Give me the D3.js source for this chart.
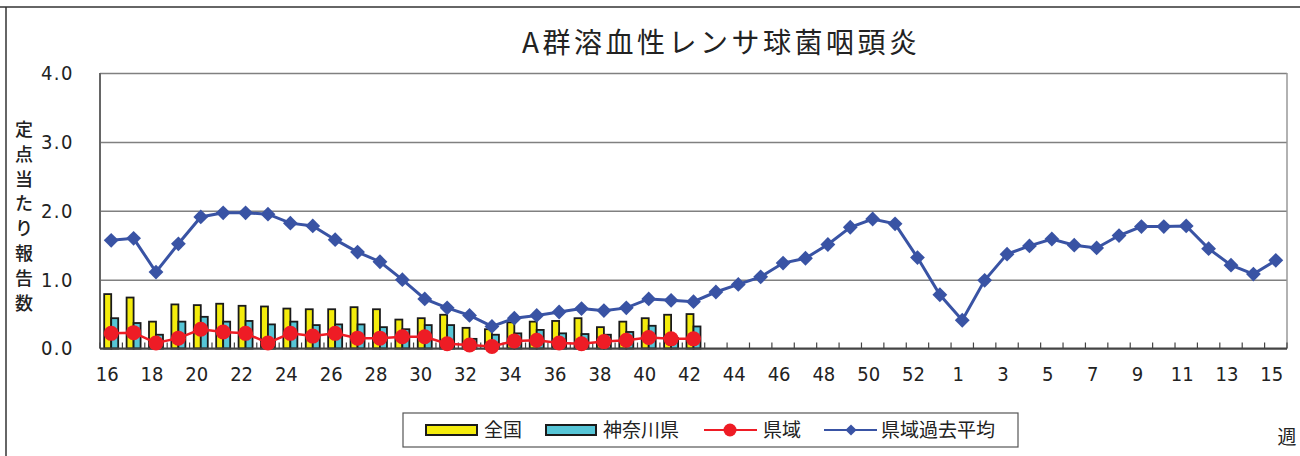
<!DOCTYPE html>
<html lang="ja">
<head>
<meta charset="UTF-8">
<script src="https://cdn.jsdelivr.net/npm/d3@7"></script>
<title>index</title>
<style>
  body { margin: 0; background: #fff; }
  text { fill: #222; }
  .jp { font-family: "Noto Sans CJK JP", sans-serif; }
  .num { font-family: "Liberation Sans Narrow", "DejaVu Sans Condensed", sans-serif; }
</style>
</head>
<body>
<div id="chart"></div>
<script>
// weeks shown on the category axis (16..53, then 1..15)
var weeks = [16,17,18,19,20,21,22,23,24,25,26,27,28,29,30,31,32,33,34,35,36,37,38,39,40,41,42,
             43,44,45,46,47,48,49,50,51,52,53,1,2,3,4,5,6,7,8,9,10,11,12,13,14,15];

// 全国 (bars, weeks 16-42)
var national = [0.79,0.74,0.39,0.64,0.63,0.65,0.62,0.61,0.58,0.57,0.57,0.60,0.57,0.42,
                0.44,0.49,0.30,0.28,0.38,0.39,0.40,0.44,0.31,0.39,0.44,0.49,0.50];
// 神奈川県 (bars, weeks 16-42)
var kanagawa = [0.44,0.37,0.20,0.39,0.46,0.39,0.40,0.35,0.39,0.34,0.35,0.35,0.31,0.28,
                0.34,0.34,0.14,0.20,0.22,0.27,0.22,0.21,0.20,0.24,0.33,0.15,0.32];
// 県域 (red line, weeks 16-42)
var prefecture = [0.22,0.23,0.08,0.15,0.28,0.24,0.22,0.08,0.22,0.18,0.22,0.15,0.15,0.17,
                  0.17,0.07,0.05,0.03,0.11,0.12,0.08,0.07,0.10,0.12,0.16,0.14,0.14];
// 県域過去平均 (blue line, all weeks)
var pastAvg = [1.57,1.60,1.11,1.52,1.91,1.97,1.97,1.95,1.82,1.78,1.58,1.40,1.26,1.00,
               0.72,0.59,0.48,0.32,0.44,0.48,0.53,0.58,0.55,0.59,0.72,0.70,0.68,
               0.82,0.93,1.04,1.24,1.31,1.51,1.76,1.88,1.81,1.32,0.78,0.41,0.99,
               1.37,1.49,1.59,1.50,1.46,1.64,1.77,1.77,1.78,1.45,1.21,1.08,1.28];
var yTicks = [0,1,2,3,4];
var barKeys = ['全国','神奈川県'];

var width = 1300, height = 456;
var plotLeft = 100, plotRight = 1287, plotTop = 73, plotBottom = 348.5;

var svg = d3.select('#chart').append('svg')
    .attr('width', width).attr('height', height);

// outer frame (top and left edges)
svg.append('line').attr('x1', 0).attr('x2', width).attr('y1', 7).attr('y2', 7)
    .attr('stroke', '#333').attr('stroke-width', 1.5);
svg.append('line').attr('x1', 6).attr('x2', 6).attr('y1', 7).attr('y2', height)
    .attr('stroke', '#333').attr('stroke-width', 1.5);

var x = d3.scaleBand().domain(weeks).range([plotLeft, plotRight]).padding(0);
var y = d3.scaleLinear().domain([0, 4]).range([plotBottom, plotTop]);
var x1 = d3.scaleBand().domain(barKeys).range([0, x.bandwidth()])
    .paddingInner(0).paddingOuter(0.6);
var bw = x.bandwidth();

// gridlines + y labels
var yAxis = svg.append('g')
    .attr('transform', 'translate(' + plotLeft + ',0)')
    .call(d3.axisLeft(y).tickValues(yTicks).tickSize(-(plotRight - plotLeft)).tickPadding(26)
          .tickFormat(d3.format('.1f')));
yAxis.select('.domain').remove();
yAxis.selectAll('.tick line').attr('stroke', '#808080').attr('stroke-width', 1.5);
yAxis.selectAll('.tick text').attr('class', 'num').attr('font-size', 20)
    .attr('letter-spacing', 1.5).attr('fill', '#222');

// plot sides
svg.append('line').attr('x1', plotLeft).attr('x2', plotLeft).attr('y1', plotTop).attr('y2', plotBottom)
    .attr('stroke', '#666').attr('stroke-width', 2);
svg.append('line').attr('x1', plotRight).attr('x2', plotRight).attr('y1', plotTop).attr('y2', plotBottom)
    .attr('stroke', '#999').attr('stroke-width', 1.5);

// bars
var barData = national.map(function(v, i) {
    return { week: weeks[i], vals: [
        { key: '全国', value: v, color: '#f4ec0c' },
        { key: '神奈川県', value: kanagawa[i], color: '#56c5d6' }] };
});
var groups = svg.append('g').selectAll('g').data(barData).enter().append('g')
    .attr('transform', function(d) { return 'translate(' + x(d.week) + ',0)'; });
groups.selectAll('rect').data(function(d) { return d.vals; }).enter().append('rect')
    .attr('x', function(d) { return x1(d.key); })
    .attr('y', function(d) { return y(d.value); })
    .attr('width', x1.bandwidth())
    .attr('height', function(d) { return y(0) - y(d.value); })
    .attr('fill', function(d) { return d.color; })
    .attr('stroke', '#1a1a1a').attr('stroke-width', 1.8);

// x axis line + ticks at category boundaries
var bounds = weeks.map(function(w) { return x(w); }).concat([plotRight]);
svg.append('g').selectAll('line').data(bounds).enter().append('line')
    .attr('x1', function(d) { return d; }).attr('x2', function(d) { return d; })
    .attr('y1', plotBottom - 6).attr('y2', plotBottom)
    .attr('stroke', '#444').attr('stroke-width', 1.2);
svg.append('line').attr('x1', plotLeft).attr('x2', plotRight).attr('y1', plotBottom).attr('y2', plotBottom)
    .attr('stroke', '#444').attr('stroke-width', 2);

// x labels every other week
svg.append('g').selectAll('text').data(weeks.filter(function(w, i) { return i % 2 === 0; }))
    .enter().append('text')
    .attr('class', 'num')
    .attr('x', function(d) { return x(d) + bw / 2 - 4; })
    .attr('y', 381)
    .attr('text-anchor', 'middle')
    .attr('font-size', 20)
    .text(function(d) { return d; });

// 県域過去平均 line
var lineAvg = d3.line()
    .x(function(d, i) { return x(weeks[i]) + bw / 2; })
    .y(function(d) { return y(d); });
svg.append('path').datum(pastAvg).attr('d', lineAvg)
    .attr('fill', 'none').attr('stroke', '#3953a4').attr('stroke-width', 3);
var diamond = d3.symbol().type(d3.symbolDiamond2).size(140);
svg.append('g').selectAll('path').data(pastAvg).enter().append('path')
    .attr('d', diamond)
    .attr('transform', function(d, i) {
        return 'translate(' + (x(weeks[i]) + bw / 2) + ',' + y(d) + ')';
    })
    .attr('fill', '#3953a4');

// 県域 line
svg.append('path').datum(prefecture).attr('d', lineAvg)
    .attr('fill', 'none').attr('stroke', '#ee1c25').attr('stroke-width', 2.5);
svg.append('g').selectAll('circle').data(prefecture).enter().append('circle')
    .attr('cx', function(d, i) { return x(weeks[i]) + bw / 2; })
    .attr('cy', function(d) { return y(d); })
    .attr('r', 7.5)
    .attr('fill', '#ee1c25');

// title
svg.append('text').attr('class', 'jp')
    .attr('x', 522).attr('y', 53)
    .attr('font-size', 28).attr('letter-spacing', 3.5)
    .text('A群溶血性レンサ球菌咽頭炎');

// y axis title (vertical)
var yTitle = '定点当たり報告数'.split('');
svg.append('g').selectAll('text').data(yTitle).enter().append('text')
    .attr('class', 'jp')
    .attr('x', 24)
    .attr('y', function(d, i) { return 136 + i * 24.8; })
    .attr('text-anchor', 'middle')
    .attr('font-size', 18)
    .attr('font-weight', 500)
    .text(function(d) { return d; });

// 週
svg.append('text').attr('class', 'jp').attr('x', 1287).attr('y', 444)
    .attr('text-anchor', 'middle').attr('font-size', 19).text('週');

// legend
var lg = svg.append('g');
lg.append('rect').attr('x', 403).attr('y', 413).attr('width', 615).attr('height', 34)
    .attr('fill', '#fff').attr('stroke', '#555').attr('stroke-width', 1.2);
var ly = 430;
lg.append('rect').attr('x', 426).attr('y', ly - 5).attr('width', 51).attr('height', 10)
    .attr('fill', '#f4ec0c').attr('stroke', '#1a1a1a').attr('stroke-width', 2);
lg.append('rect').attr('x', 546).attr('y', ly - 5).attr('width', 50).attr('height', 10)
    .attr('fill', '#56c5d6').attr('stroke', '#1a1a1a').attr('stroke-width', 2);
lg.append('line').attr('x1', 704).attr('x2', 757).attr('y1', ly).attr('y2', ly)
    .attr('stroke', '#ee1c25').attr('stroke-width', 2);
lg.append('circle').attr('cx', 730).attr('cy', ly).attr('r', 6.5).attr('fill', '#ee1c25');
lg.append('line').attr('x1', 824).attr('x2', 877).attr('y1', ly).attr('y2', ly)
    .attr('stroke', '#3953a4').attr('stroke-width', 2);
lg.append('path').attr('d', d3.symbol().type(d3.symbolDiamond2).size(80))
    .attr('transform', 'translate(851,' + ly + ')').attr('fill', '#3953a4');
var labels = [['全国', 484], ['神奈川県', 603], ['県域', 763], ['県域過去平均', 881]];
lg.selectAll('text.lt').data(labels).enter().append('text')
    .attr('class', 'jp')
    .attr('x', function(d) { return d[1]; })
    .attr('y', ly + 7)
    .attr('font-size', 19)
    .text(function(d) { return d[0]; });
</script>
</body>
</html>
